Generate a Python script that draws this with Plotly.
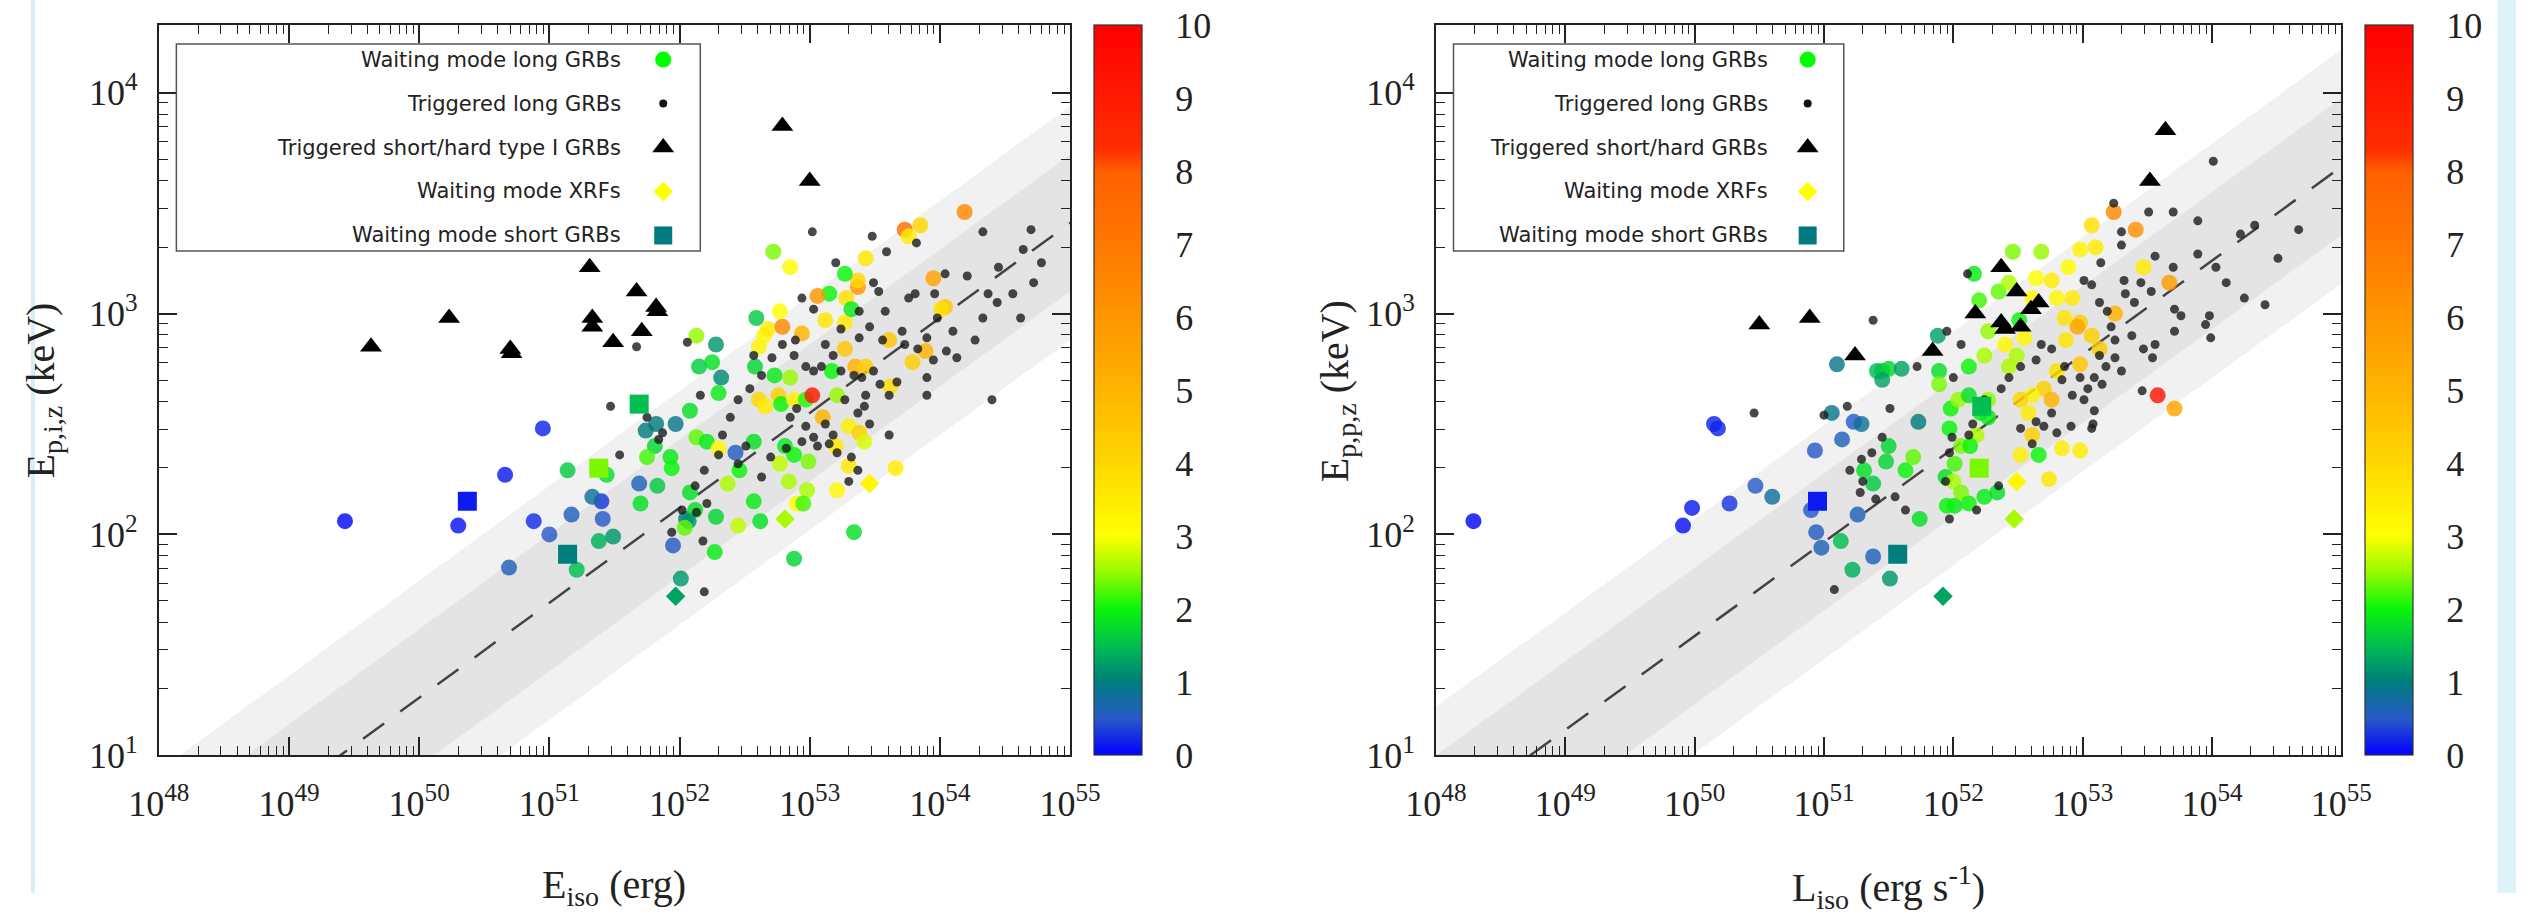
import numpy as np
import plotly.graph_objects as go

W, H = 2547, 914

# ======================= DATA (log10 values) =======================
# ---- Left panel: Eiso (erg) vs Ep,i,z (keV) ----
L_wl_logE = [49.43, 50.30, 50.66, 50.95, 50.88, 51.00, 50.69, 51.17, 51.40, 51.41, 51.33, 51.69, 51.95, 52.05, 52.43,
             51.14, 51.38, 51.49, 51.21, 51.44, 51.70, 51.74, 51.82, 51.97, 51.81, 51.75, 51.93, 51.83, 51.94, 52.08,
             52.12, 52.07, 52.04, 52.28, 52.27, 52.01, 52.13, 52.28, 52.15, 52.25, 52.32, 52.30, 52.08, 52.13, 52.21,
             52.30, 52.37, 52.46, 52.45, 52.57, 52.62, 52.57, 52.59, 52.58, 52.61, 52.65, 52.68, 52.72, 52.85, 52.79,
             52.77, 52.73, 52.76, 52.61, 52.66, 52.78, 52.85, 52.88, 52.97, 53.02, 53.10, 52.81, 52.88, 52.77, 52.99,
             52.84, 52.98, 52.90, 52.95, 52.88, 53.34, 53.21, 53.30, 53.20, 53.30, 53.38, 53.42, 53.66, 53.21, 53.17,
             53.27, 53.35, 53.43, 53.27, 53.28, 53.37, 53.37, 53.27, 53.43, 53.15, 53.06, 52.94, 53.12, 53.32, 53.73,
             53.76, 53.85, 54.19, 53.95, 54.04, 54.01, 53.61, 53.79, 53.89, 53.62]
L_wl_logEp = [2.06, 2.04, 2.27, 2.48, 2.06, 2.00, 1.85, 2.09, 2.15, 2.07, 2.17, 2.23, 1.95, 2.07, 2.37,
              2.29, 1.97, 1.99, 1.84, 2.27, 2.14, 2.47, 2.50, 2.50, 2.40, 2.35, 2.35, 2.22, 2.30, 2.19,
              2.11, 2.06, 2.03, 2.08, 1.92, 1.80, 2.90, 2.86, 2.76, 2.78, 2.71, 2.64, 2.56, 2.44, 2.42,
              2.39, 2.23, 2.29, 2.04, 2.15, 2.06, 2.42, 2.98, 2.76, 2.85, 2.90, 2.93, 3.28, 3.21, 2.94,
              3.01, 2.72, 2.63, 2.61, 2.58, 2.59, 2.71, 2.61, 2.61, 2.63, 2.53, 2.40, 2.36, 2.32, 2.33,
              2.24, 2.20, 2.14, 2.14, 1.89, 2.01, 2.20, 2.31, 2.40, 2.49, 2.46, 2.42, 2.30, 2.63, 2.74,
              2.84, 2.76, 2.76, 2.96, 3.07, 3.12, 3.15, 3.18, 3.25, 3.09, 3.08, 2.91, 2.97, 3.02, 3.38,
              3.35, 3.40, 3.46, 3.16, 3.03, 3.02, 2.88, 2.78, 2.83, 2.67]
L_wl_z = [0.05, 0.10, 0.15, 0.20, 0.25, 0.50, 0.60, 0.60, 0.30, 0.50, 0.80, 0.60, 0.50, 0.90, 0.55,
          1.6, 1.4, 1.2, 1.5, 1.8, 1.8, 1.0, 1.0, 0.9, 1.7, 2.2, 1.9, 1.6, 2.0, 1.8,
          1.8, 1.2, 2.3, 1.7, 1.9, 1.2, 2.5, 1.2, 1.6, 1.8, 1.1, 1.9, 1.8, 2.3, 1.9,
          3.2, 2.6, 2.0, 2.7, 1.9, 1.8, 1.8, 1.6, 1.7, 3.3, 3.2, 3.5, 2.4, 3.1, 6.5,
          3.0, 1.9, 4.2, 4.0, 3.5, 2.0, 2.5, 3.3, 2.1, 9.0, 5.0, 1.9, 2.0, 2.7, 2.4,
          2.6, 2.6, 3.1, 2.2, 1.7, 1.8, 3.2, 3.6, 3.5, 3.4, 4.2, 2.8, 3.5, 2.5, 2.0,
          4.5, 5.0, 4.3, 3.5, 3.8, 6.0, 4.0, 2.0, 3.6, 2.0, 6.0, 5.0, 3.6, 1.9, 7.5,
          3.5, 4.0, 6.5, 5.5, 4.5, 3.8, 4.5, 4.3, 5.0, 3.8]

L_tl_logE = [51.67, 51.47, 51.54, 52.06, 52.16, 53.02, 53.48, 53.59, 53.82, 54.33,
             54.70, 53.20, 52.94, 53.03, 53.49, 53.53, 53.38, 53.58, 53.76, 53.81,
             53.96, 54.04, 54.21, 54.45, 54.64, 54.78, 54.72, 54.37, 54.56, 54.62,
             54.44, 54.27, 54.33, 54.10, 53.98, 53.71, 53.90, 54.05, 54.13, 53.95,
             53.90, 53.67, 53.61, 53.90, 54.40, 53.38, 53.24, 53.12, 53.18, 53.09,
             53.24, 53.34, 53.40, 53.49, 53.54, 53.43, 53.37, 53.27, 53.42, 53.46,
             53.61, 53.32, 53.37, 53.30, 53.21, 53.15, 53.06, 53.03, 52.94, 52.97,
             52.90, 52.85, 53.03, 52.97, 52.88, 52.89, 52.79, 52.71, 52.63, 52.54,
             52.45, 52.57, 52.39, 52.33, 52.30, 52.19, 52.12, 52.21, 52.13, 52.02,
             51.94, 52.18, 52.45, 52.51, 52.63, 52.70, 52.82, 53.12, 53.18, 52.19,
             51.84, 51.87, 51.75, 53.46, 53.56, 53.73, 53.83]
L_tl_logEp = [2.85, 2.58, 2.36, 2.87, 2.63, 3.37, 3.35, 3.28, 3.32, 3.37,
              3.38, 3.23, 3.07, 3.02, 3.14, 3.10, 3.01, 3.01, 3.07, 3.09,
              3.09, 3.18, 3.17, 3.21, 3.29, 3.23, 3.14, 3.09, 3.09, 2.98,
              3.05, 2.88, 2.98, 2.92, 2.98, 2.92, 2.89, 2.83, 2.80, 2.79,
              2.71, 2.69, 2.63, 2.63, 2.61, 2.89, 2.93, 2.86, 2.81, 2.76,
              2.74, 2.72, 2.71, 2.74, 2.68, 2.63, 2.55, 2.61, 2.58, 2.50,
              2.45, 2.35, 2.29, 2.24, 2.37, 2.41, 2.40, 2.44, 2.42, 2.49,
              2.57, 2.53, 2.74, 2.76, 2.81, 2.88, 2.86, 2.80, 2.72, 2.66,
              2.61, 2.81, 2.53, 2.45, 2.36, 2.29, 2.22, 2.14, 2.10, 2.11,
              2.01, 1.97, 2.32, 2.40, 2.26, 2.35, 2.39, 2.50, 2.45, 1.74,
              2.43, 2.46, 2.53, 2.94, 2.88, 2.86, 2.84]

L_ts_logE = [49.63, 50.23, 50.71, 50.70, 51.31, 51.33, 51.33, 51.49, 51.67, 51.71, 51.82, 51.83, 52.79, 53.00]
L_ts_logEp = [2.85, 2.98, 2.82, 2.84, 3.21, 2.98, 2.94, 2.87, 3.10, 2.92, 3.03, 3.01, 3.85, 3.60]

L_xrf_logE = [51.97, 53.46, 52.81]
L_xrf_logEp = [1.72, 2.23, 2.07]
L_xrf_z = [1.3, 3.2, 2.6]

L_ws_logE = [50.37, 51.14, 51.69, 51.38]
L_ws_logEp = [2.15, 1.91, 2.59, 2.30]
L_ws_z = [0.15, 1.0, 1.5, 2.4]

# ---- Right panel: Liso (erg/s) vs Ep,p,z (keV) ----
R_wl_logL = [48.29, 49.91, 49.98, 50.27, 50.15, 50.18, 50.47, 50.60, 50.93, 51.06,
             51.10, 51.14, 51.23, 51.29, 50.90, 50.94, 50.98, 51.26, 51.38, 51.73,
             51.51, 51.22, 51.13, 51.45, 51.41, 51.50, 51.60, 51.45, 51.38, 51.48,
             51.31, 51.50, 51.63, 51.69, 51.74, 51.94, 52.01, 51.95, 51.88, 51.89,
             51.89, 51.98, 52.04, 52.12, 52.12, 51.97, 52.06, 52.21, 52.27, 52.27,
             52.18, 52.13, 52.01, 52.00, 52.06, 52.12, 52.24, 52.34, 52.16, 52.20,
             52.27, 52.24, 52.35, 52.46, 52.43, 52.51, 52.55, 52.68, 52.64, 52.61,
             52.76, 52.80, 52.89, 52.98, 53.07, 53.24, 53.41, 53.10, 52.92, 52.86,
             52.98, 52.87, 52.96, 53.07, 53.25, 53.13, 52.98, 52.80, 52.70, 52.76,
             52.61, 52.52, 52.58, 52.61, 52.52, 52.66, 52.84, 52.98, 52.74, 53.47,
             53.67, 53.58, 53.71, 52.43, 52.40, 52.49]
R_wl_logEp = [2.06, 2.04, 2.12, 2.14, 2.50, 2.48, 2.22, 2.17, 2.38, 2.55,
              2.77, 2.43, 2.51, 2.50, 2.11, 2.01, 1.94, 2.09, 1.90, 2.51,
              1.80, 1.84, 1.97, 2.74, 2.74, 2.75, 2.75, 2.70, 2.23, 2.33,
              2.29, 2.40, 2.29, 2.35, 2.07, 2.26, 2.13, 2.13, 2.90, 2.74,
              2.68, 2.57, 2.61, 2.63, 2.76, 2.48, 2.40, 2.55, 2.61, 2.53,
              2.45, 2.40, 2.32, 2.24, 2.19, 2.14, 2.17, 2.19, 3.18, 3.06,
              2.92, 2.81, 3.10, 3.28, 3.14, 2.97, 2.89, 3.28, 3.16, 3.07,
              3.15, 3.07, 3.21, 3.29, 3.40, 3.46, 3.38, 3.30, 3.07, 2.98,
              2.96, 2.88, 2.94, 2.90, 3.00, 2.84, 2.77, 2.74, 2.66, 2.61,
              2.63, 2.61, 2.55, 2.45, 2.36, 2.36, 2.39, 2.38, 2.25, 3.21,
              3.14, 2.63, 2.57, 2.76, 2.86, 2.81]
R_wl_z = [0.05, 0.10, 0.15, 0.30, 0.20, 0.20, 0.5, 0.8, 0.5, 0.9,
          0.9, 0.6, 0.5, 0.8, 0.5, 0.55, 0.6, 0.6, 0.6, 1.0,
          1.2, 1.4, 1.5, 1.6, 1.5, 1.7, 1.3, 1.3, 1.6, 1.7,
          1.8, 1.7, 2.0, 2.3, 1.8, 1.8, 1.9, 2.0, 1.3, 1.8,
          2.4, 2.0, 2.5, 1.8, 2.0, 2.0, 2.4, 1.9, 2.5, 1.9,
          2.6, 2.0, 2.2, 2.6, 2.4, 2.0, 1.9, 1.8, 1.9, 2.2,
          2.5, 2.6, 2.3, 2.4, 2.6, 2.0, 3.2, 2.5, 3.0, 3.2,
          3.5, 3.2, 3.1, 3.3, 3.8, 6.5, 6.2, 3.5, 3.5, 3.7,
          4.3, 3.6, 5.5, 4.2, 5.0, 4.4, 4.5, 3.8, 4.2, 5.0,
          3.3, 4.0, 3.5, 4.2, 3.4, 2.0, 3.5, 3.5, 3.6, 3.5,
          5.8, 9.2, 5.5, 2.6, 3.2, 2.6]

R_tl_logL = [50.46, 51.00, 51.18, 51.38, 51.51, 52.11, 51.95, 53.24, 53.51, 53.70,
             53.30, 53.30, 53.89, 54.01, 54.33, 54.22, 54.67, 54.51, 53.89, 54.03,
             53.70, 53.56, 53.14, 53.32, 53.45, 53.33, 53.13, 53.07, 53.01, 53.19,
             53.40, 53.53, 53.71, 53.76, 53.98, 54.11, 54.25, 54.41, 53.95, 53.99,
             53.71, 53.56, 53.54, 53.47, 53.38, 53.22, 53.25, 53.13, 53.18, 53.25,
             53.30, 53.15, 53.09, 53.04, 52.98, 52.92, 53.01, 53.07, 52.84, 52.76,
             52.70, 52.64, 52.61, 52.52, 52.86, 52.76, 52.64, 52.68, 52.52, 52.43,
             52.37, 52.24, 52.15, 52.12, 51.99, 51.97, 51.94, 51.97, 52.18, 52.35,
             52.00, 52.06, 51.72, 51.63, 51.45, 51.37, 51.29, 51.20, 51.28, 51.40,
             51.55, 51.30, 51.08, 52.91, 52.80, 53.46, 53.08, 53.09]
R_tl_logEp = [2.55, 2.54, 2.58, 2.97, 2.57, 3.18, 2.92, 3.50, 3.46, 3.46,
              3.37, 3.31, 3.42, 3.69, 3.40, 3.36, 3.38, 3.25, 3.27, 3.21,
              3.21, 3.26, 3.23, 3.15, 3.14, 3.09, 3.05, 3.13, 3.15, 3.01,
              3.05, 3.10, 3.02, 2.99, 2.99, 3.14, 3.07, 3.04, 2.95, 2.89,
              2.92, 2.86, 2.80, 2.84, 2.90, 2.94, 2.88, 2.81, 2.76, 2.80,
              2.74, 2.68, 2.71, 2.66, 2.71, 2.63, 2.61, 2.48, 2.70, 2.55,
              2.49, 2.51, 2.41, 2.48, 2.76, 2.84, 2.79, 2.86, 2.76, 2.71,
              2.66, 2.61, 2.50, 2.45, 2.44, 2.37, 2.24, 2.07, 2.11, 2.22,
              2.71, 2.86, 2.76, 2.11, 2.44, 2.37, 2.34, 2.29, 2.19, 2.16,
              2.17, 2.24, 1.75, 2.49, 2.46, 2.65, 2.50, 2.56]

R_ts_logL = [50.50, 50.89, 51.24, 51.84, 52.17, 52.37, 52.37, 52.49, 52.60, 52.40, 52.52, 52.66, 53.52, 53.64]
R_ts_logEp = [2.95, 2.98, 2.81, 2.83, 3.00, 3.21, 2.96, 3.10, 3.02, 2.93, 2.94, 3.05, 3.60, 3.83]

R_xrf_logL = [51.92, 52.49, 52.47]
R_xrf_logEp = [1.72, 2.24, 2.07]
R_xrf_z = [1.3, 3.2, 2.6]

R_ws_logL = [50.95, 51.57, 52.22, 52.20]
R_ws_logEp = [2.15, 1.91, 2.58, 2.30]
R_ws_z = [0.15, 1.0, 1.5, 2.4]

# correlation fits: log Ep = norm + slope*(log X - 52); band half-widths (dex)
L_FIT = (2.12, 0.43)
R_FIT = (2.39, 0.425)
BAND_IN, BAND_OUT = 0.31, 0.53

LEG_L = ["Waiting mode long GRBs", "Triggered long GRBs", "Triggered short/hard type I GRBs",
         "Waiting mode XRFs", "Waiting mode short GRBs"]
LEG_R = ["Waiting mode long GRBs", "Triggered long GRBs", "Triggered short/hard GRBs",
         "Waiting mode XRFs", "Waiting mode short GRBs"]
Z_TICKS = list(range(0, 11))
X_DECADES = list(range(48, 56))
Y_DECADES = [1, 2, 3, 4]

# ======================= STYLE / LAYOUT =======================
CS = [[0.0, 'rgb(0,0,255)'], [0.05, 'rgb(40,90,200)'], [0.1, 'rgb(0,125,125)'],
      [0.15, 'rgb(0,190,80)'], [0.2, 'rgb(10,245,10)'], [0.25, 'rgb(150,250,0)'],
      [0.3, 'rgb(255,255,0)'], [0.4, 'rgb(255,215,0)'], [0.5, 'rgb(255,180,0)'],
      [0.6, 'rgb(255,150,0)'], [0.7, 'rgb(255,120,0)'], [0.8, 'rgb(255,95,0)'],
      [0.83, 'rgb(255,45,0)'], [1.0, 'rgb(255,0,0)']]

PLOT_TOP, PLOT_BOT = 26, 773
PANEL_L = (131, 1065)
PANEL_R = (1440, 2368)
CBAR_L = 1090
CBAR_R = 2392
CBAR_W = 48
YRANGE = [1, 4.305]
XRANGE = [48, 55]

ydom = [1 - PLOT_BOT / H, 1 - PLOT_TOP / H]
SERIF = 'Liberation Serif'
SANS = 'DejaVu Sans'


def p10(a):
    return [10.0 ** v for v in a]


fig = go.Figure()


def add_panel(xa, ya, ca, fit, wl, tl, ts, xrf, ws):
    norm, slope = fit
    xs = np.array([47.0, 56.0])
    line = norm + slope * (xs - 52)
    for w, col in [(BAND_OUT, '#f1f1f1'), (BAND_IN, '#e4e4e4')]:
        px = list(xs) + list(xs[::-1])
        py = list(line + w) + list((line - w)[::-1])
        fig.add_trace(go.Scatter(x=p10(px + [px[0]]), y=p10(py + [py[0]]),
                                 fill='toself', fillcolor=col, line=dict(width=0),
                                 mode='lines', xaxis=xa, yaxis=ya, hoverinfo='skip', showlegend=False))
    fig.add_trace(go.Scatter(x=p10(xs), y=p10(line), mode='lines',
                             line=dict(color='#444', width=2.5, dash='26px,20px'),
                             xaxis=xa, yaxis=ya, hoverinfo='skip', showlegend=False))
    fig.add_trace(go.Scatter(x=p10(wl[0]), y=p10(wl[1]), mode='markers', xaxis=xa, yaxis=ya,
                             marker=dict(size=16, color=wl[2], coloraxis=ca, opacity=0.82,
                                         line=dict(width=0)), showlegend=False))
    fig.add_trace(go.Scatter(x=p10(tl[0]), y=p10(tl[1]), mode='markers', xaxis=xa, yaxis=ya,
                             marker=dict(size=9, color='#1a1a1a', opacity=0.8), showlegend=False))
    fig.add_trace(go.Scatter(x=p10(xrf[0]), y=p10(xrf[1]), mode='markers', xaxis=xa, yaxis=ya,
                             marker=dict(size=15, symbol='diamond', color=xrf[2], coloraxis=ca,
                                         line=dict(width=0)), showlegend=False))
    fig.add_trace(go.Scatter(x=p10(ws[0]), y=p10(ws[1]), mode='markers', xaxis=xa, yaxis=ya,
                             marker=dict(size=19, symbol='square', color=ws[2], coloraxis=ca,
                                         line=dict(width=0)), showlegend=False))
    fig.add_trace(go.Scatter(x=p10(ts[0]), y=p10(ts[1]), mode='markers', xaxis=xa, yaxis=ya,
                             marker=dict(size=19, symbol='triangle-up', color='#000'), showlegend=False))


add_panel('x', 'y', 'coloraxis', L_FIT,
          (L_wl_logE, L_wl_logEp, L_wl_z), (L_tl_logE, L_tl_logEp), (L_ts_logE, L_ts_logEp),
          (L_xrf_logE, L_xrf_logEp, L_xrf_z), (L_ws_logE, L_ws_logEp, L_ws_z))
add_panel('x2', 'y2', 'coloraxis2', R_FIT,
          (R_wl_logL, R_wl_logEp, R_wl_z), (R_tl_logL, R_tl_logEp), (R_ts_logL, R_ts_logEp),
          (R_xrf_logL, R_xrf_logEp, R_xrf_z), (R_ws_logL, R_ws_logEp, R_ws_z))

# ---- legends (gnuplot style: text right-aligned, symbol on the right) ----
LEG_ROWS = [61, 106, 151, 196, 241]
LEG_SYMS = [dict(symbol='circle', size=16, color='#00ff00'),
            dict(symbol='circle', size=8, color='#111'),
            dict(symbol='triangle-up', size=19, color='#000'),
            dict(symbol='diamond', size=15, color='#ffff00'),
            dict(symbol='square', size=18, color='#007a80')]
annotations = []
shapes = []
for labels, text_right, sym_x, box in [(LEG_L, 607, 648, (149, 686)), (LEG_R, 1782, 1821, (1458, 1858))]:
    for lab, row, sty in zip(labels, LEG_ROWS, LEG_SYMS):
        annotations.append(dict(text=lab, x=text_right / W, y=1 - row / H, xref='paper', yref='paper',
                                xanchor='right', yanchor='middle', showarrow=False,
                                font=dict(family=SANS, size=21, color='#222')))
        fig.add_trace(go.Scatter(x=[sym_x], y=[row], mode='markers', xaxis='x3', yaxis='y3',
                                 marker=dict(symbol=sty['symbol'], size=sty['size'], color=sty['color']),
                                 hoverinfo='skip', showlegend=False))
    shapes.append(dict(type='rect', xref='paper', yref='paper', x0=box[0] / W, x1=box[1] / W,
                       y0=1 - 257 / H, y1=1 - 45 / H, line=dict(color='#555', width=1.5), layer='above'))

# ---- axis titles ----
for txt, x, y, ang in [("E<sub>iso</sub> (erg)", 598, 908, 0),
                       ("L<sub>iso</sub> (erg s<sup>-1</sup>)", 1904, 908, 0),
                       ("E<sub>p,i,z</sub> (keV)", 12, 400, -90),
                       ("E<sub>p,p,z</sub> (keV)", 1338, 400, -90)]:
    annotations.append(dict(text=txt, x=x / W, y=1 - y / H, xref='paper', yref='paper',
                            xanchor='center', yanchor='middle', showarrow=False, textangle=ang,
                            font=dict(family=SERIF, size=40, color='#222')))

# ---- colorbar dashed separators ----
cb_len = (PLOT_BOT - PLOT_TOP) / H
for cx in (CBAR_L, CBAR_R):
    for v in Z_TICKS[1:-1]:
        yy = ydom[0] + v / 10 * cb_len
        shapes.append(dict(type='line', xref='paper', yref='paper', x0=cx / W, x1=(cx + CBAR_W) / W,
                           y0=yy, y1=yy, line=dict(color='#333', width=1.5, dash='18px,10px'), layer='above'))

# light-blue page edges
shapes.append(dict(type='rect', xref='paper', yref='paper', x0=0, x1=4 / W, y0=0, y1=1,
                   fillcolor='#d8eef8', line=dict(width=0), layer='below'))
shapes.append(dict(type='rect', xref='paper', yref='paper', x0=2528 / W, x1=1, y0=0, y1=1,
                   fillcolor='#ddf2f9', line=dict(width=0), layer='below'))


def log_axis(dom, rng, anchor, standoff, decades):
    return dict(type='log', domain=dom, range=rng, anchor=anchor,
                tickmode='array', tickvals=[10.0 ** d for d in decades],
                ticktext=['10<sup>%d</sup>' % d for d in decades],
                ticks='inside', ticklen=18, tickwidth=1.5, tickcolor='#222',
                minor=dict(ticks='inside', ticklen=9, tickwidth=1.2, tickcolor='#222',
                           dtick='D1', showgrid=False),
                showline=True, linewidth=2, linecolor='#222', mirror='allticks',
                showgrid=False, zeroline=False, ticklabelstandoff=standoff,
                tickfont=dict(family=SERIF, size=36, color='#222'))


def cax(xpx):
    return dict(cmin=0, cmax=10, colorscale=CS,
                colorbar=dict(x=xpx / W, xanchor='left', xpad=0, ypad=0,
                              y=ydom[0], yanchor='bottom', len=cb_len, lenmode='fraction',
                              thickness=CBAR_W, thicknessmode='pixels',
                              outlinewidth=1.2, outlinecolor='#333',
                              tickvals=Z_TICKS, ticks='outside', ticklen=26,
                              tickcolor='rgba(0,0,0,0)',
                              tickfont=dict(family=SERIF, size=36, color='#222')))


fig.update_layout(
    width=W, height=H, autosize=False,
    margin=dict(l=0, r=0, t=0, b=0, pad=0),
    paper_bgcolor='white', plot_bgcolor='rgba(0,0,0,0)',
    showlegend=False,
    xaxis=log_axis([PANEL_L[0] / W, PANEL_L[1] / W], XRANGE, 'y', 16, X_DECADES),
    yaxis=log_axis(ydom, YRANGE, 'x', 12, Y_DECADES),
    xaxis2=log_axis([PANEL_R[0] / W, PANEL_R[1] / W], XRANGE, 'y2', 16, X_DECADES),
    yaxis2=log_axis(ydom, YRANGE, 'x2', 12, Y_DECADES),
    xaxis3=dict(domain=[0, 1], range=[0, W], visible=False, anchor='y3', fixedrange=True),
    yaxis3=dict(domain=[0, 1], range=[H, 0], visible=False, anchor='x3', fixedrange=True),
    coloraxis=cax(CBAR_L),
    coloraxis2=cax(CBAR_R),
    annotations=annotations,
    shapes=shapes,
)

fig.write_html("out.html")
